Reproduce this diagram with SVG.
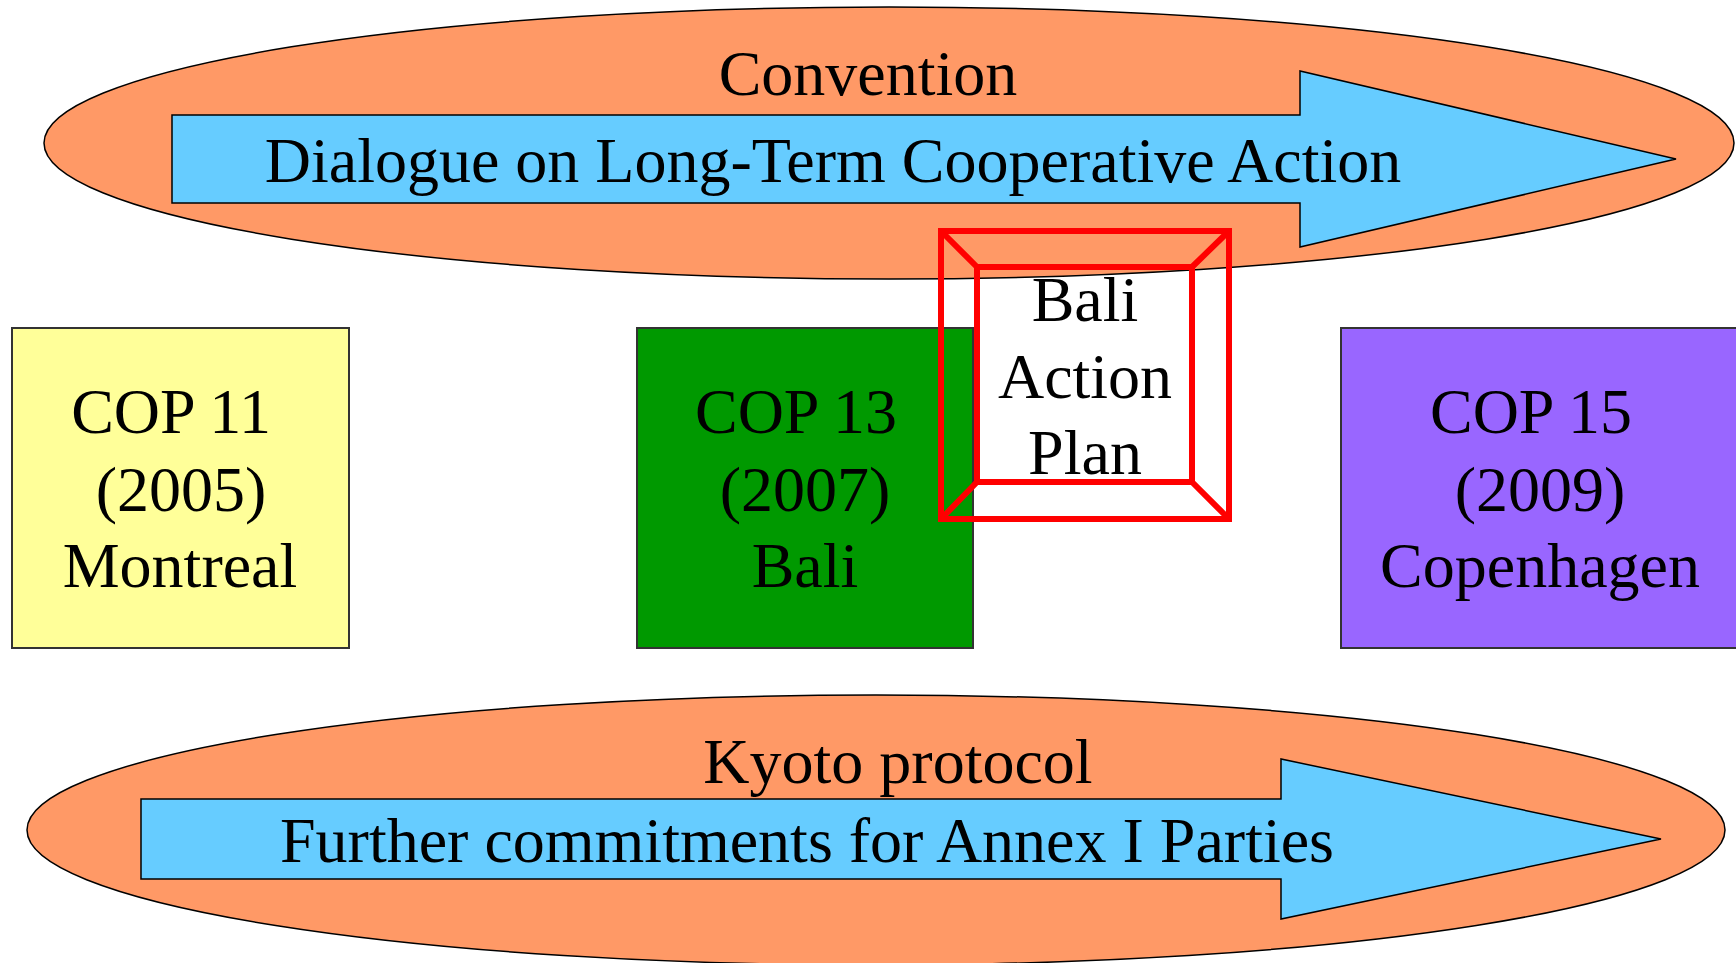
<svg xmlns="http://www.w3.org/2000/svg" width="1736" height="963" viewBox="0 0 1736 963">
<style>
.t{font-family:"Liberation Serif","Times New Roman",serif;font-size:64px;fill:#000;text-anchor:middle}
.ell{fill:#FF9966;stroke:#000;stroke-width:1.5}
.arr{fill:#66CCFF;stroke:#000;stroke-width:1.5}
.box{stroke:#333;stroke-width:2}
.bev{fill:none;stroke:#FF0000;stroke-width:6}
</style>
<rect width="1736" height="963" fill="#fff"/>
<g id="convention">
<ellipse class="ell" cx="889" cy="143" rx="845" ry="136"/>
<text class="t" x="868" y="95">Convention</text>
</g>
<g id="dialogue">
<polygon class="arr" points="172,115 1300,115 1300,71 1676,159 1300,247 1300,203 172,203"/>
<text class="t" x="833" y="182">Dialogue on Long-Term Cooperative Action</text>
</g>
<g id="kyoto">
<ellipse class="ell" cx="876" cy="830" rx="849" ry="135"/>
<text class="t" x="898" y="783">Kyoto protocol</text>
</g>
<g id="further">
<polygon class="arr" points="141,799 1281,799 1281,759 1661,839 1281,919 1281,879 141,879"/>
<text class="t" x="807" y="862">Further commitments for Annex I Parties</text>
</g>
<g id="cop11">
<rect class="box" x="12" y="328" width="337" height="320" fill="#FFFF99"/>
<text class="t" x="171" y="433">COP 11</text>
<text class="t" x="181" y="511">(2005)</text>
<text class="t" x="180" y="587">Montreal</text>
</g>
<g id="cop13">
<rect class="box" x="637" y="328" width="336" height="320" fill="#009900"/>
<text class="t" x="796" y="433">COP 13</text>
<text class="t" x="805" y="511">(2007)</text>
<text class="t" x="805" y="587">Bali</text>
</g>
<g id="cop15">
<rect class="box" x="1341" y="328" width="400" height="320" fill="#9966FF"/>
<text class="t" x="1531" y="433">COP 15</text>
<text class="t" x="1540" y="511">(2009)</text>
<text class="t" x="1540" y="587">Copenhagen</text>
</g>
<g id="bali-action-plan">
<rect class="bev" x="941" y="231" width="288" height="288"/>
<rect class="bev" x="977" y="267" width="215" height="215"/>
<path class="bev" d="M941,231 L977,267 M1229,231 L1192,267 M941,519 L977,482 M1229,519 L1192,482"/>
<text class="t" x="1085" y="321">Bali</text>
<text class="t" x="1085" y="398">Action</text>
<text class="t" x="1085" y="474">Plan</text>
</g>
<g id="connectors"></g>
</svg>
